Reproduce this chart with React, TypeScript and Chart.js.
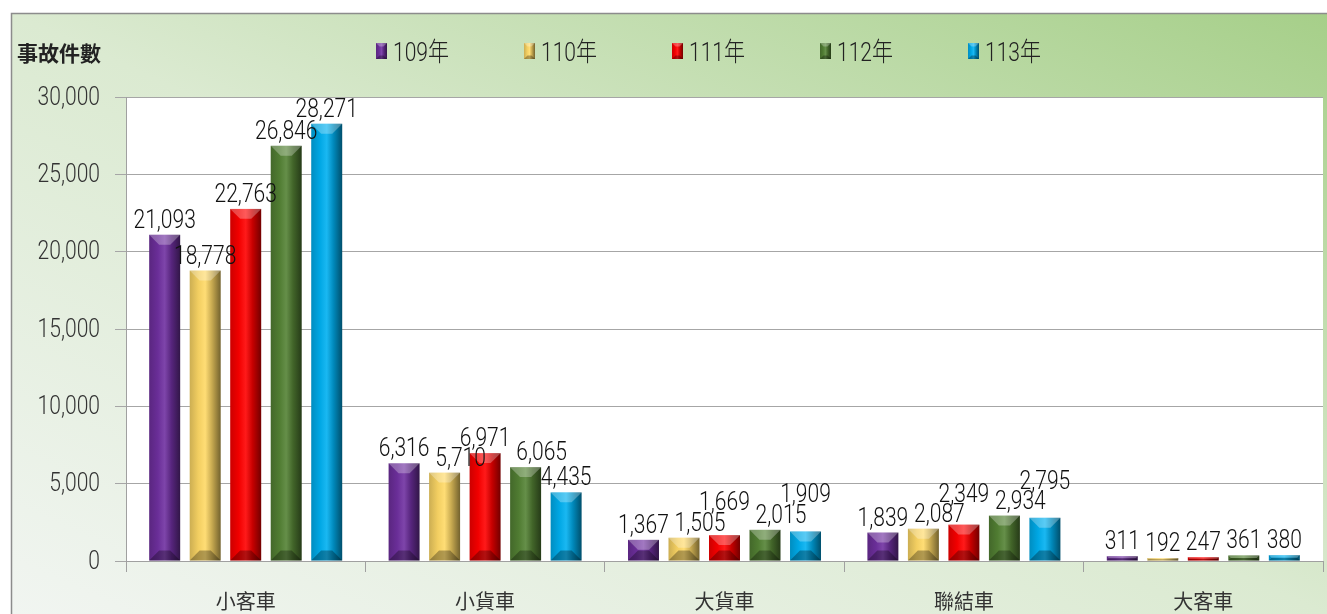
import React, { useEffect, useRef } from "react";
import { Chart, registerables } from "chart.js";
Chart.register(...registerables);

const categories = ["小客車", "小貨車", "大貨車", "聯結車", "大客車"];
const seriesNames = ["109年", "110年", "111年", "112年", "113年"];
const v109 = [21093, 6316, 1367, 1839, 311];
const v110 = [18778, 5710, 1505, 2087, 192];
const v111 = [22763, 6971, 1669, 2349, 247];
const v112 = [26846, 6065, 2015, 2934, 361];
const v113 = [28271, 4435, 1909, 2795, 380];
const seriesValues = [v109, v110, v111, v112, v113];
const yMin = 0;
const yMax = 30000;
const yStep = 5000;
const yTitle = "事故件數";
const seriesColors = ["#7030A0", "#FFD966", "#FF0000", "#548235", "#00B0F0"];

const W = 1327;
const H = 614;
const NUM_FONT = 'Roboto, "Liberation Sans", Arial, sans-serif';
const NUM_WEIGHT = "300";
const CJK_FONT = '"Noto Sans CJK TC", "Noto Sans CJK SC", sans-serif';
const SX = 0.81; // horizontal condensing of numeric text

function hexToRgb(h: string) {
  const n = parseInt(h.slice(1), 16);
  return [(n >> 16) & 255, (n >> 8) & 255, n & 255];
}
function shade(h: string, f: number) {
  const [r, g, b] = hexToRgb(h);
  if (f <= 1) return `rgb(${Math.round(r * f)},${Math.round(g * f)},${Math.round(b * f)})`;
  const t = f - 1;
  return `rgb(${Math.round(r + (255 - r) * t)},${Math.round(g + (255 - g) * t)},${Math.round(b + (255 - b) * t)})`;
}

function drawBevel(ctx: CanvasRenderingContext2D, x0: number, y0: number, x1: number, y1: number, color: string, maxB: number) {
  const w = x1 - x0;
  const h = y1 - y0;
  if (h <= 0 || w <= 0) return;
  const g = ctx.createLinearGradient(x0, 0, x1, 0);
  g.addColorStop(0, shade(color, 0.8));
  g.addColorStop(0.28, shade(color, 0.95));
  g.addColorStop(0.5, shade(color, 1.1));
  g.addColorStop(0.72, shade(color, 0.78));
  g.addColorStop(1, shade(color, 0.45));
  ctx.save();
  ctx.fillStyle = g;
  ctx.fillRect(x0, y0, w, h);
  const b = Math.min(maxB, w * 0.32, h / 2);
  ctx.fillStyle = "rgba(255,255,255,0.28)";
  ctx.beginPath();
  ctx.moveTo(x0, y0);
  ctx.lineTo(x1, y0);
  ctx.lineTo(x1 - b, y0 + b);
  ctx.lineTo(x0 + b, y0 + b);
  ctx.closePath();
  ctx.fill();
  ctx.fillStyle = "rgba(0,0,0,0.3)";
  ctx.beginPath();
  ctx.moveTo(x0, y1);
  ctx.lineTo(x1, y1);
  ctx.lineTo(x1 - b, y1 - b);
  ctx.lineTo(x0 + b, y1 - b);
  ctx.closePath();
  ctx.fill();
  ctx.restore();
}

function condensedText(ctx: CanvasRenderingContext2D, txt: string, x: number, y: number, align: "left" | "center" | "right") {
  ctx.save();
  ctx.translate(x, y);
  ctx.scale(SX, 1);
  ctx.textAlign = align;
  ctx.fillText(txt, 0, 0);
  ctx.restore();
}

const fmt = (v: number) => Number(v).toLocaleString("en-US");

const decoPlugin = {
  id: "deco",
  beforeDraw(chart: any) {
    const ctx: CanvasRenderingContext2D = chart.ctx;
    ctx.save();
    ctx.fillStyle = "#ffffff";
    ctx.fillRect(0, 0, W, H);
    const fx = 11, fy = 13;
    const cx = (fx + W) / 2, cy = (fy + H) / 2;
    const fw = W - fx, fh = H - fy;
    const len = Math.hypot(fw, fh);
    const ux = fh / len, uy = -fw / len;
    const half = (fw * fh * 2) / len / 2;
    const g = ctx.createLinearGradient(cx - ux * half, cy - uy * half, cx + ux * half, cy + uy * half);
    g.addColorStop(0, "#f1f5f1");
    g.addColorStop(0.5, "#dbead1");
    g.addColorStop(1, "#a6cf89");
    ctx.fillStyle = g;
    ctx.fillRect(fx, fy, fw, fh);
    ctx.strokeStyle = "#8c8c8c";
    ctx.lineWidth = 1.5;
    ctx.beginPath();
    ctx.moveTo(fx + 0.5, H);
    ctx.lineTo(fx + 0.5, fy + 0.5);
    ctx.lineTo(W, fy + 0.5);
    ctx.stroke();
    const a = chart.chartArea;
    ctx.fillStyle = "#ffffff";
    ctx.fillRect(a.left, a.top, a.right - a.left, a.bottom - a.top);
    ctx.restore();
  },
  afterDatasetsDraw(chart: any) {
    const ctx: CanvasRenderingContext2D = chart.ctx;
    ctx.save();
    chart.data.datasets.forEach((ds: any, di: number) => {
      const meta = chart.getDatasetMeta(di);
      meta.data.forEach((el: any) => {
        const x0 = el.x - el.width / 2;
        const x1 = el.x + el.width / 2;
        drawBevel(ctx, x0, el.y, x1, el.base, seriesColors[di], 10);
      });
    });
    // y tick labels
    const ys = chart.scales.y;
    ctx.font = `${NUM_WEIGHT} 26px ${NUM_FONT}`;
    ctx.fillStyle = "#333333";
    ctx.textBaseline = "middle";
    ys.ticks.forEach((t: any) => {
      condensedText(ctx, fmt(t.value), ys.right - 26, ys.getPixelForValue(t.value) + 1, "right");
    });
    // value labels with simple collision avoidance
    ctx.fillStyle = "#111111";
    ctx.textBaseline = "alphabetic";
    type Box = { l: number; r: number; t: number; b: number };
    const placed: Box[] = [];
    const hit = (bx: Box) => placed.some((p) => bx.l < p.r && bx.r > p.l && bx.t < p.b && bx.b > p.t);
    const dxs = [0, -4, 4, -8, 8, -12, 12, -16, 16];
    categories.forEach((_, ci) => {
      chart.data.datasets.forEach((ds: any, di: number) => {
        const el = chart.getDatasetMeta(di).data[ci];
        const txt = fmt(ds.data[ci]);
        const tw = ctx.measureText(txt).width * SX;
        let best: Box | null = null;
        let bx = el.x;
        let by = el.y - 7;
        for (let dy = 0; dy < 120 && !best; dy += 2) {
          for (const dx of dxs) {
            const b = el.y - 7 - dy;
            const box = { l: el.x + dx - tw / 2 - 1, r: el.x + dx + tw / 2 + 1, t: b - 19, b };
            if (!hit(box)) {
              best = box;
              bx = el.x + dx;
              by = b;
              break;
            }
          }
        }
        if (best) placed.push(best);
        condensedText(ctx, txt, bx, by, "center");
      });
    });
    ctx.restore();
  },
  afterDraw(chart: any) {
    const ctx: CanvasRenderingContext2D = chart.ctx;
    ctx.save();
    ctx.fillStyle = "#222222";
    ctx.font = `bold 21px ${CJK_FONT}`;
    ctx.textBaseline = "alphabetic";
    ctx.textAlign = "left";
    ctx.fillText(yTitle, 17, 61);
    seriesNames.forEach((name, i) => {
      const x = 376 + i * 148;
      drawBevel(ctx, x, 43, x + 11, 59, seriesColors[i], 4);
      ctx.fillStyle = "#222222";
      ctx.font = `${NUM_WEIGHT} 26px ${NUM_FONT}, ${CJK_FONT}`;
      condensedText(ctx, name, x + 17, 61, "left");
    });
    ctx.restore();
  },
};

export default function App() {
  const ref = useRef<HTMLCanvasElement | null>(null);
  useEffect(() => {
    if (!ref.current) return;
    const chart = new Chart(ref.current, {
      type: "bar",
      data: {
        labels: categories,
        datasets: seriesValues.map((vals, i) => ({
          label: seriesNames[i],
          data: vals,
          backgroundColor: "rgba(0,0,0,0)",
          borderWidth: 0,
          categoryPercentage: 0.846,
          barPercentage: 0.765,
        })),
      },
      options: {
        animation: false,
        responsive: false,
        devicePixelRatio: 1,
        layout: { padding: { top: 97, right: 4, bottom: 0, left: 0 } },
        plugins: { legend: { display: false }, tooltip: { enabled: false } },
        scales: {
          x: {
            afterFit: (s: any) => {
              s.height = 53;
            },
            grid: { display: true, drawOnChartArea: false, drawTicks: true, tickLength: 11, color: "#a0a0a0", offset: true },
            border: { display: true, color: "#a0a0a0", width: 1 },
            ticks: { font: { family: CJK_FONT, size: 20 }, color: "#333333", padding: 17, maxRotation: 0 },
          },
          y: {
            min: yMin,
            max: yMax,
            afterFit: (s: any) => {
              s.width = 126;
            },
            grid: { color: "#a6a6a6", tickLength: 11, lineWidth: 1 },
            border: { display: true, color: "#a0a0a0", width: 1 },
            ticks: {
              display: false,
              stepSize: yStep,
            },
          },
        },
      },
      plugins: [decoPlugin],
    });
    return () => chart.destroy();
  }, []);
  return (
    <div style={{ position: "fixed", left: 0, top: 0, width: W, height: H, overflow: "hidden" }}>
      <canvas ref={ref} width={W} height={H} style={{ display: "block", width: W, height: H }} />
    </div>
  );
}
